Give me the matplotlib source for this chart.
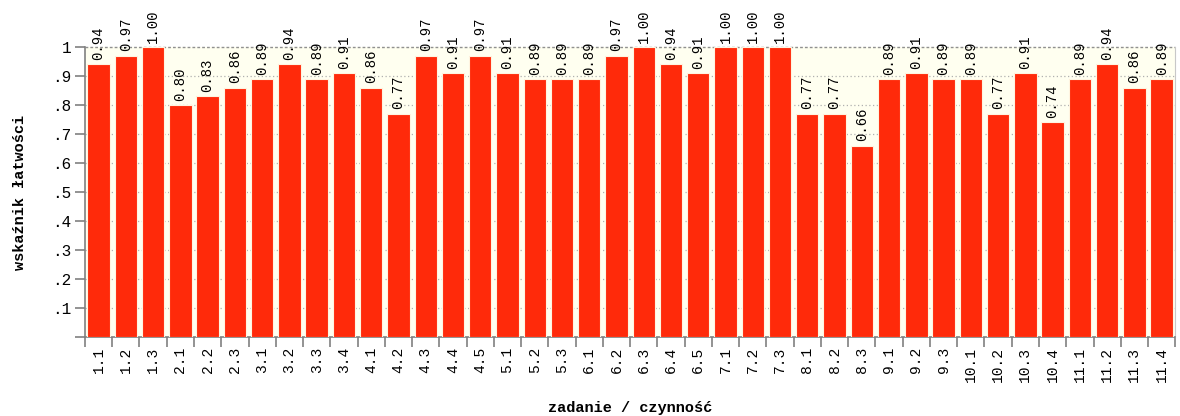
import numpy as np
import matplotlib.pyplot as plt
from matplotlib.ticker import FixedLocator

# --- Data ---
categories = ['1.1', '1.2', '1.3', '2.1', '2.2', '2.3', '3.1', '3.2', '3.3', '3.4',
              '4.1', '4.2', '4.3', '4.4', '4.5', '5.1', '5.2', '5.3', '6.1', '6.2',
              '6.3', '6.4', '6.5', '7.1', '7.2', '7.3', '8.1', '8.2', '8.3', '9.1',
              '9.2', '9.3', '10.1', '10.2', '10.3', '10.4', '11.1', '11.2', '11.3', '11.4']
values = [0.94, 0.97, 1.00, 0.80, 0.83, 0.86, 0.89, 0.94, 0.89, 0.91,
          0.86, 0.77, 0.97, 0.91, 0.97, 0.91, 0.89, 0.89, 0.89, 0.97,
          1.00, 0.94, 0.91, 1.00, 1.00, 1.00, 0.77, 0.77, 0.66, 0.89,
          0.91, 0.89, 0.89, 0.77, 0.91, 0.74, 0.89, 0.94, 0.86, 0.89]
y_ticks = [0.1, 0.2, 0.3, 0.4, 0.5, 0.6, 0.7, 0.8, 0.9, 1.0]
y_tick_labels = ['.1', '.2', '.3', '.4', '.5', '.6', '.7', '.8', '.9', '1']

MONO = ['Liberation Mono', 'DejaVu Sans Mono']
BAR_COLOR = '#ff2a0a'
BG_COLOR = '#fffff0'

fig = plt.figure(figsize=(11.8, 4.16), dpi=100)
ax = fig.add_axes([0.072, 0.19, 0.924, 0.697])
ax.set_facecolor(BG_COLOR)

x = np.arange(len(categories))
ax.bar(x, values, width=0.82, color=BAR_COLOR, edgecolor='#fff4e0', linewidth=0.8, zorder=3)

for xi, v in zip(x, values):
    ax.text(xi, v + 0.015, f'{v:.2f}', rotation=90, ha='center', va='bottom',
            fontsize=10, family=MONO, color='black', clip_on=False)

ax.set_xlim(-0.5, len(categories) - 0.5)
ax.set_ylim(0, 1)

# grid lines
for yv in y_ticks[:-1]:
    ax.axhline(yv, color='#b0b0b0', linestyle=(0, (1, 2)), linewidth=0.9, zorder=1)
ax.axhline(1.0, color='#909090', linestyle=(0, (2, 1.5)), linewidth=1.0, zorder=1, clip_on=False)

ax.set_yticks([0] + y_ticks)
ax.set_yticklabels([''] + y_tick_labels, family=MONO, fontsize=11.5)
ax.tick_params(axis='y', length=7, width=1.2, color='#808080', pad=3)

ax.set_xticks(x)
ax.set_xticklabels(categories, rotation=90, family=MONO, fontsize=10.5)
ax.tick_params(axis='x', length=0, pad=7)
ax.xaxis.set_minor_locator(FixedLocator(np.arange(-0.5, len(categories), 1.0)))
ax.tick_params(axis='x', which='minor', length=7, width=1.2, color='#808080')

for side in ['left', 'bottom']:
    ax.spines[side].set_color('#808080')
    ax.spines[side].set_linewidth(1.2)
ax.spines['right'].set_color('#c8c8c8')
ax.spines['top'].set_visible(False)

ax.set_ylabel('wskaźnik łatwości', family=MONO, fontsize=11, fontweight='bold', labelpad=18)
ax.set_xlabel('zadanie / czynność', family=MONO, fontsize=11, fontweight='bold', labelpad=14)

fig.savefig('out.png', dpi=100)
